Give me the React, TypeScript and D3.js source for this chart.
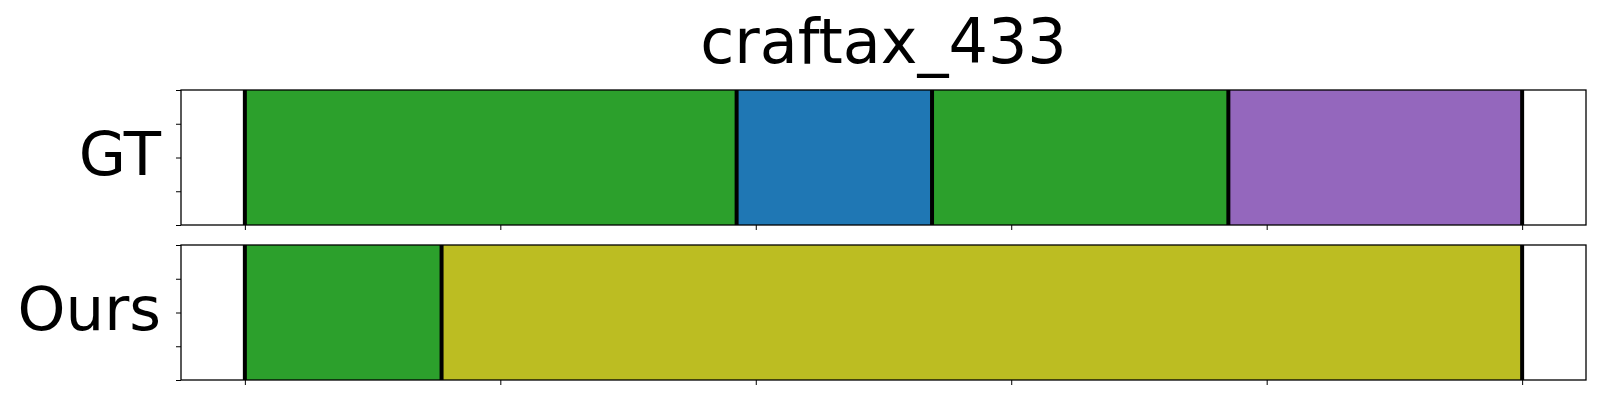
import React, { useEffect, useRef } from 'react';
import * as d3 from 'd3';

const title = 'craftax_433';
const rowLabels = ['GT', 'Ours'];

// segment boundaries (fraction of episode) and class of each segment
const gtBounds = [0, 0.385, 0.538, 0.77, 1.0];
const gtClasses = ['green', 'blue', 'green', 'purple'];
const oursBounds = [0, 0.154, 1.0];
const oursClasses = ['green', 'olive'];

const xTicks = [0, 0.2, 0.4, 0.6, 0.8, 1.0];
const yTicks = [0, 0.25, 0.5, 0.75, 1.0];

const classColors: Record<string, string> = {
    blue: '#1f77b4',
    green: '#2ca02c',
    purple: '#9467bd',
    olive: '#bcbd22',
};

export default function App() {
    const svgRef = useRef<SVGSVGElement>(null);

    useEffect(() => {
        document.body.style.margin = '0';
        if (!svgRef.current) return;
        const svg = d3.select(svgRef.current);
        svg.selectAll('*').remove();

        const left = 181, right = 1586;
        const panels = [
            { top: 90, bottom: 225, bounds: gtBounds, classes: gtClasses, label: rowLabels[0] },
            { top: 245, bottom: 380, bounds: oursBounds, classes: oursClasses, label: rowLabels[1] },
        ];

        const x = d3.scaleLinear().domain([-0.05, 1.05]).range([left, right]);

        svg.append('text')
            .attr('x', (left + right) / 2)
            .attr('y', 63)
            .attr('text-anchor', 'middle')
            .style('font-family', 'DejaVu Sans')
            .style('font-size', '62px')
            .text(title);

        panels.forEach(p => {
            const y = d3.scaleLinear().domain([0, 1]).range([p.bottom, p.top]);
            const g = svg.append('g');

            const segs = p.classes.map((c, i) => ({ c, s: p.bounds[i], e: p.bounds[i + 1] }));
            g.selectAll('rect.seg')
                .data(segs)
                .join('rect')
                .attr('class', 'seg')
                .attr('x', d => x(d.s))
                .attr('width', d => x(d.e) - x(d.s))
                .attr('y', y(1))
                .attr('height', y(0) - y(1))
                .attr('fill', d => classColors[d.c]);

            g.selectAll('line.bound')
                .data(p.bounds)
                .join('line')
                .attr('class', 'bound')
                .attr('x1', d => x(d))
                .attr('x2', d => x(d))
                .attr('y1', y(1))
                .attr('y2', y(0))
                .attr('stroke', '#000')
                .attr('stroke-width', 4);

            // frame
            g.append('rect')
                .attr('x', left)
                .attr('y', p.top)
                .attr('width', right - left)
                .attr('height', p.bottom - p.top)
                .attr('fill', 'none')
                .attr('stroke', '#000')
                .attr('stroke-width', 1.3);

            const yAxis = d3.axisLeft(y).tickValues(yTicks).tickFormat(() => '').tickSize(5).tickSizeOuter(0);
            g.append('g')
                .attr('transform', `translate(${left},0)`)
                .call(yAxis)
                .call(a => a.select('.domain').remove());

            const xAxis = d3.axisBottom(x).tickValues(xTicks).tickFormat(() => '').tickSize(5).tickSizeOuter(0);
            g.append('g')
                .attr('transform', `translate(0,${p.bottom})`)
                .call(xAxis)
                .call(a => a.select('.domain').remove());

            g.append('text')
                .attr('x', 161)
                .attr('y', (p.top + p.bottom) / 2 + 17)
                .attr('text-anchor', 'end')
                .style('font-family', 'DejaVu Sans')
                .style('font-size', '61px')
                .text(p.label);
        });
    }, []);

    return <svg ref={svgRef} width={1600} height={400} style={{ display: 'block', background: '#fff' }} />;
}
